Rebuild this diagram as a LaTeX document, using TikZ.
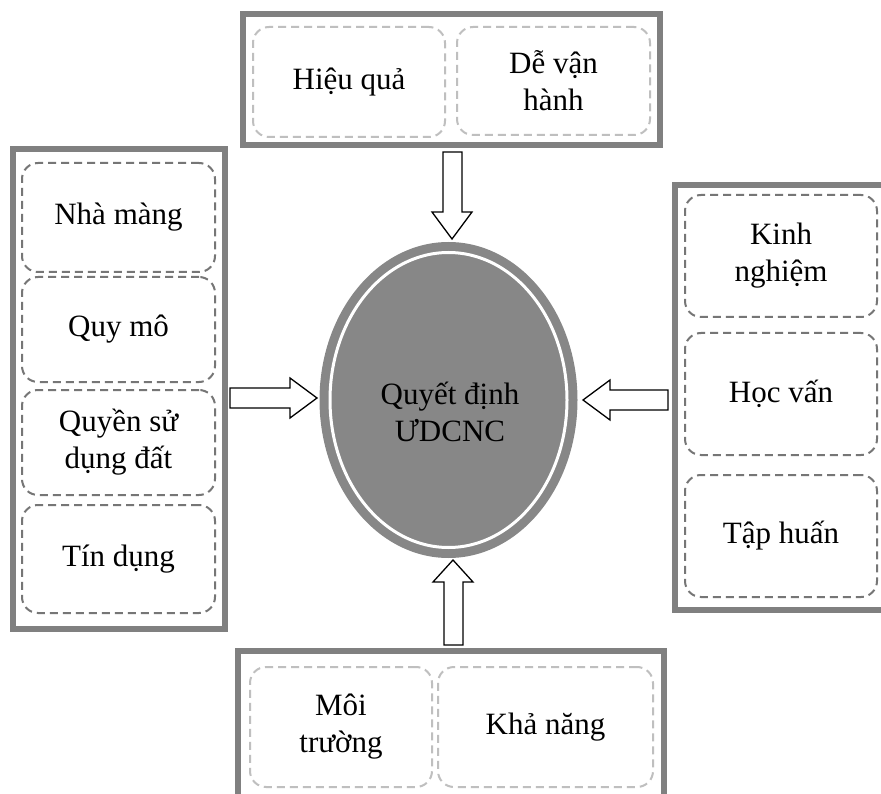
\documentclass[tikz,border=0pt]{standalone}
\usepackage{fontspec}
\setmainfont{Liberation Serif}
\usetikzlibrary{shapes.geometric}
\definecolor{framegray}{HTML}{808080}
\definecolor{ellgray}{HTML}{878787}
\definecolor{dlight}{HTML}{BFBFBF}
\definecolor{ddark}{HTML}{767676}
\begin{document}
\begin{tikzpicture}[x=1pt,y=-1pt,
  frame/.style={draw=framegray, line width=6pt, fill=white, inner sep=0pt},
  dbox/.style={line width=2pt, dash pattern=on 8pt off 5pt, rounded corners=16pt,
    align=center, inner sep=0pt, font=\fontsize{31}{37}\selectfont},
  dboxl/.style={dbox, draw=dlight},
  dboxd/.style={dbox, draw=ddark},
  blockarrow/.style={draw=black, fill=white, line width=1.3pt, line join=miter}
]
\useasboundingbox (0,0) rectangle (881,794);
\clip (0,0) rectangle (881,794);

% frames
\node[frame, minimum width=417pt, minimum height=131pt] (ftop) at (451.5,79.5) {};
\node[frame, minimum width=212pt, minimum height=480pt] (fleft) at (119,389) {};
\node[frame, minimum width=225pt, minimum height=425pt] (fright) at (787.5,397.5) {};
\node[frame, minimum width=426pt, minimum height=169pt] (fbot) at (451,735.5) {};

% top boxes
\node[dboxl, minimum width=192pt, minimum height=110pt] (t1) at (349,82) {Hiệu quả};
\node[dboxl, minimum width=193pt, minimum height=108pt] (t2) at (553.5,81) {Dễ vận\\hành};

% left boxes
\node[dboxd, minimum width=193pt, minimum height=109pt] (l1) at (118.5,217.5) {Nhà màng};
\node[dboxd, minimum width=193pt, minimum height=105pt] (l2) at (118.5,329.5) {Quy mô};
\node[dboxd, minimum width=193pt, minimum height=105pt] (l3) at (118.5,442.5) {Quyền sử\\dụng đất};
\node[dboxd, minimum width=193pt, minimum height=108pt] (l4) at (118.5,559) {Tín dụng};

% right boxes
\node[dboxd, minimum width=192pt, minimum height=122pt] (r1) at (781,256) {Kinh\\nghiệm};
\node[dboxd, minimum width=192pt, minimum height=122pt] (r2) at (781,394) {Học vấn};
\node[dboxd, minimum width=192pt, minimum height=122pt] (r3) at (781,536) {Tập huấn};

% bottom boxes
\node[dboxl, minimum width=182pt, minimum height=120pt] (b1) at (341,727) {Môi\\trường};
\node[dboxl, minimum width=215pt, minimum height=120pt] (b2) at (545.5,727) {Khả năng};

% central ellipse
\node[ellipse, fill=ellgray, inner sep=0pt, minimum width=258pt, minimum height=316pt] (ell) at (448.5,400) {};
\draw[white, line width=3pt] (ell.center) ellipse [x radius=118.5, y radius=147.5];
\node[align=center, font=\fontsize{31}{37}\selectfont] (lab) at (450,412) {Quyết định\\ƯDCNC};

% block arrows
\coordinate (atop) at (452,239);
\draw[blockarrow] (atop) -- ++(20,-27) -- ++(-10,0) -- ++(0,-60) -- ++(-19,0) -- ++(0,60) -- ++(-11,0) -- cycle;
\coordinate (abot) at (453,560);
\draw[blockarrow] (abot) -- ++(20,22) -- ++(-10,0) -- ++(0,63) -- ++(-19,0) -- ++(0,-63) -- ++(-11,0) -- cycle;
\coordinate (aleft) at (317,398);
\draw[blockarrow] (aleft) -- ++(-27,-20) -- ++(0,10) -- ++(-60,0) -- ++(0,20) -- ++(60,0) -- ++(0,10) -- cycle;
\coordinate (aright) at (583,400);
\draw[blockarrow] (aright) -- ++(27,-20) -- ++(0,10) -- ++(58,0) -- ++(0,20) -- ++(-58,0) -- ++(0,10) -- cycle;
\end{tikzpicture}
\end{document}
